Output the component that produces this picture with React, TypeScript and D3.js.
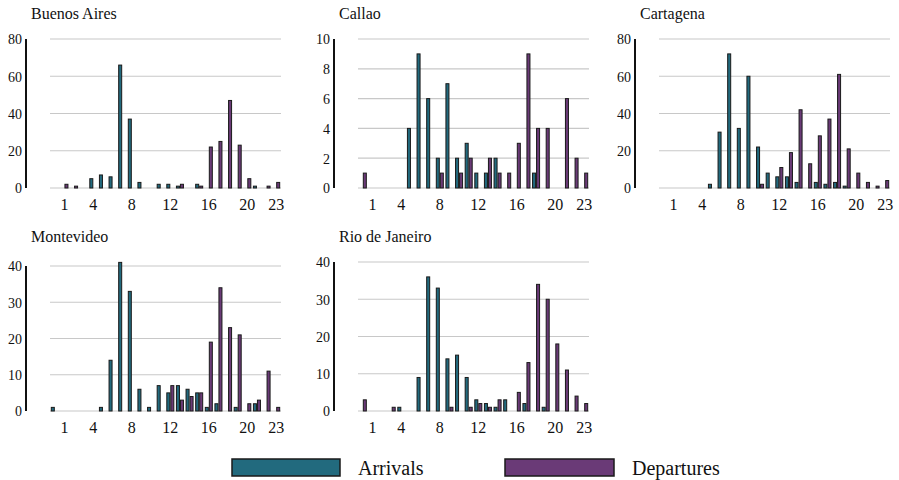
import React from 'react';
import * as d3 from 'd3';

const width = 899;
const height = 480;
const font = "'Liberation Serif', 'Times New Roman', Times, 'DejaVu Serif', serif";

const arrivalColor = '#226a7e';
const departureColor = '#6a3a77';

const hours = d3.range(24);
const hourTicks = [1, 4, 8, 12, 16, 20, 23];

const cities = ['Buenos Aires', 'Callao', 'Cartagena', 'Montevideo', 'Rio de Janeiro'];
const yMax = [80, 10, 80, 40, 40];

// per hour 0..23
const arrivals = {
  'Buenos Aires': [0, 0, 0, 0, 5, 7, 6, 66, 37, 3, 0, 2, 2, 1, 0, 2, 0, 0, 0, 0, 0, 1, 0, 0],
  Callao: [0, 0, 0, 0, 0, 4, 9, 6, 2, 7, 2, 3, 1, 1, 2, 0, 0, 0, 1, 0, 0, 0, 0, 0],
  Cartagena: [0, 0, 0, 0, 0, 2, 30, 72, 32, 60, 22, 8, 6, 6, 3, 0, 3, 2, 3, 1, 0, 0, 0, 0],
  Montevideo: [1, 0, 0, 0, 0, 1, 14, 41, 33, 6, 1, 7, 5, 7, 6, 5, 1, 2, 0, 1, 0, 2, 0, 0],
  'Rio de Janeiro': [0, 0, 0, 0, 1, 0, 9, 36, 33, 14, 15, 9, 3, 2, 1, 3, 0, 2, 0, 1, 0, 0, 0, 0],
};
const departures = {
  'Buenos Aires': [0, 2, 1, 0, 0, 0, 0, 0, 0, 0, 0, 0, 0, 2, 0, 1, 22, 25, 47, 23, 5, 0, 1, 3],
  Callao: [1, 0, 0, 0, 0, 0, 0, 0, 1, 0, 1, 2, 0, 2, 1, 1, 3, 9, 4, 4, 0, 6, 2, 1],
  Cartagena: [0, 0, 0, 0, 0, 0, 0, 0, 0, 0, 2, 0, 11, 19, 42, 13, 28, 37, 61, 21, 8, 3, 1, 4],
  Montevideo: [0, 0, 0, 0, 0, 0, 0, 0, 0, 0, 0, 0, 7, 3, 4, 5, 19, 34, 23, 21, 2, 3, 11, 1],
  'Rio de Janeiro': [3, 0, 0, 1, 0, 0, 0, 0, 0, 1, 0, 1, 2, 1, 3, 0, 5, 13, 34, 30, 18, 11, 4, 2],
};

// panel placement
const panelX = [0, 308, 609, 0, 308];
const plotTop = [39, 39, 39, 266, 262];
const plotBottom = [188, 188, 188, 411, 411];
const titleY = [19, 19, 19, 242, 242];

const textStyle = { fontFamily: font };

function Panel({ city, i }) {
  const ox = panelX[i];
  const x0 = d3
    .scaleBand()
    .domain(hours.map(String))
    .range([ox + 50, ox + 281]);
  const x1 = d3
    .scaleBand()
    .domain(['arr', 'dep'])
    .range([0, x0.bandwidth()])
    .paddingOuter(0.2);
  const y = d3
    .scaleLinear()
    .domain([0, yMax[i]])
    .range([plotBottom[i], plotTop[i]]);

  const bars = [];
  hours.forEach(h => {
    const a = arrivals[city][h];
    const d = departures[city][h];
    if (a > 0) bars.push({ h, s: 'arr', v: a, c: arrivalColor });
    if (d > 0) bars.push({ h, s: 'dep', v: d, c: departureColor });
  });

  return (
    <g>
      <text x={ox + 31} y={titleY[i]} fontSize={16} fill="#111" style={textStyle}>
        {city}
      </text>
      {y.ticks(5).map(t => (
        <g key={t}>
          <line
            x1={ox + 50}
            x2={ox + 281}
            y1={y(t)}
            y2={y(t)}
            stroke="#c8c8c8"
            strokeWidth={1.2}
          />
          <text
            x={ox + 22}
            y={y(t)}
            dy="0.38em"
            textAnchor="end"
            fontSize={14}
            fill="#111"
            style={textStyle}
          >
            {t}
          </text>
        </g>
      ))}
      <line
        x1={ox + 26}
        x2={ox + 26}
        y1={plotTop[i]}
        y2={plotBottom[i]}
        stroke="#111"
        strokeWidth={2}
      />
      {bars.map(b => (
        <rect
          key={b.s + b.h}
          x={x0(String(b.h)) + x1(b.s) + 0.5}
          y={y(b.v)}
          width={x1.bandwidth() - 1}
          height={y(0) - y(b.v)}
          fill={b.c}
          stroke="#1a1a1a"
          strokeWidth={1}
        />
      ))}
      {hourTicks.map(t => (
        <text
          key={t}
          x={x0(String(t)) + x0.bandwidth() / 2}
          y={plotBottom[i] + 22}
          textAnchor="middle"
          fontSize={16}
          fill="#111"
          style={textStyle}
        >
          {t}
        </text>
      ))}
    </g>
  );
}

export default function App() {
  return (
    <svg
      width={width}
      height={height}
      style={{ position: 'absolute', left: 0, top: 0, background: '#fff', fontFamily: font }}
    >
      {cities.map((c, i) => (
        <Panel key={c} city={c} i={i} />
      ))}
      <rect x={232} y={459} width={108} height={17} fill={arrivalColor} stroke="#1a1a1a" strokeWidth={1.5} />
      <text x={358} y={475} fontSize={20} fill="#111" style={textStyle}>
        Arrivals
      </text>
      <rect x={505} y={459} width={109} height={17} fill={departureColor} stroke="#1a1a1a" strokeWidth={1.5} />
      <text x={632} y={475} fontSize={20} fill="#111" style={textStyle}>
        Departures
      </text>
    </svg>
  );
}
